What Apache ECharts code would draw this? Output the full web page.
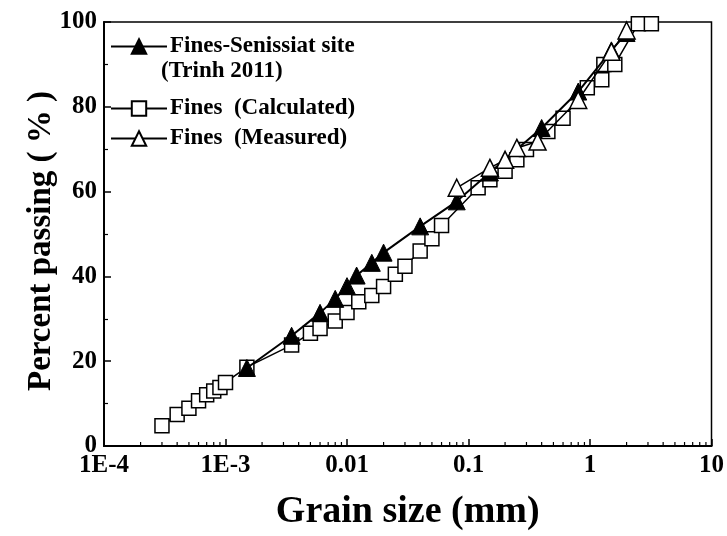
<!DOCTYPE html>
<html>
<head>
<meta charset="utf-8">
<script src="https://cdn.jsdelivr.net/npm/echarts@6/dist/echarts.min.js"></script>
<style>html,body{margin:0;padding:0;background:#fff}#c{width:727px;height:536px}</style>
</head>
<body>
<div id="c"></div>
<script>
// Fines-Senissiat site (Trinh 2011)
const senX = [0.0015, 0.0035, 0.006, 0.008, 0.01, 0.012, 0.016, 0.02, 0.04, 0.08, 0.15, 0.4, 0.8, 1.5, 2.0];
const senY = [18.4, 26.0, 31.4, 34.7, 37.7, 40.2, 43.2, 45.6, 51.8, 57.7, 64.5, 75.0, 83.6, 93.3, 97.4];
// Fines (Calculated)
const calcX = [0.0003, 0.0004, 0.0005, 0.0006, 0.0007, 0.0008, 0.0009, 0.001, 0.0015, 0.0035, 0.005, 0.006, 0.008, 0.01, 0.0125, 0.016, 0.02, 0.025, 0.03, 0.04, 0.05, 0.06, 0.12, 0.15, 0.2, 0.25, 0.3, 0.45, 0.6, 0.95, 1.25, 1.3, 1.6, 2.5, 3.2];
const calcY = [4.8, 7.4, 8.9, 10.7, 12.1, 13.0, 13.8, 15.0, 18.6, 23.8, 26.6, 27.7, 29.5, 31.5, 34.0, 35.5, 37.6, 40.5, 42.4, 46.0, 48.9, 52.0, 60.9, 62.8, 64.8, 67.5, 69.9, 74.2, 77.3, 84.5, 86.4, 90.0, 90.0, 99.6, 99.6];
// Fines (Measured)
const measX = [0.08, 0.15, 0.2, 0.25, 0.37, 0.8, 1.5, 2.0];
const measY = [60.9, 65.6, 67.5, 70.3, 71.8, 81.6, 93.0, 98.0];
// axis tick labels
const xTickLabels = ['1E-4', '1E-3', '0.01', '0.1', '1', '10'];
const xMinorTicks = [];
for (let e = -4; e < 1; e++) for (let m = 2; m <= 9; m++) xMinorTicks.push(m * Math.pow(10, e));

const zip = (a, b) => a.map((v, i) => [v, b[i]]);
const FONT = 'Liberation Serif';
const chart = echarts.init(document.getElementById('c'));
chart.setOption({
  animation: false,
  backgroundColor: '#fff',
  textStyle: { fontFamily: FONT, fontWeight: 'bold', color: '#000' },
  grid: { left: 104, right: 14, top: 22, bottom: 89, show: true, borderColor: '#000', borderWidth: 1.5, backgroundColor: 'transparent' },
  xAxis: {
    type: 'log', logBase: 10, min: 0.0001, max: 10,
    name: 'Grain size (mm)', nameLocation: 'middle', nameGap: 47,
    nameTextStyle: { fontFamily: FONT, fontWeight: 'bold', fontSize: 38, color: '#000' },
    axisLine: { lineStyle: { color: '#000', width: 2 } },
    axisTick: { inside: true, length: 7, lineStyle: { color: '#000', width: 1.5 } },
    minorTick: { show: false },
    splitLine: { show: false },
    axisLabel: {
      fontFamily: FONT, fontWeight: 'bold', fontSize: 25, color: '#000', margin: 7,
      formatter: v => xTickLabels[Math.round(Math.log10(v)) + 4]
    }
  },
  yAxis: {
    type: 'value', min: 0, max: 100, interval: 20,
    name: 'Percent passing ( % )', nameLocation: 'middle', nameGap: 46, nameMoveOverlap: false,
    nameTextStyle: { fontFamily: FONT, fontWeight: 'bold', fontSize: 33, color: '#000', padding: [0, 14, 0, 0] },
    axisLine: { show: true, lineStyle: { color: '#000', width: 2 } },
    axisTick: { inside: true, length: 7, lineStyle: { color: '#000', width: 1.5 } },
    minorTick: { show: true, splitNumber: 2, length: 4, lineStyle: { color: '#000', width: 1.2 } },
    splitLine: { show: false },
    axisLabel: { fontFamily: FONT, fontWeight: 'bold', fontSize: 25, color: '#000', margin: 7 }
  },
  legend: [
    {
      data: ['Fines-Senissiat site'], left: 105, top: 30, orient: 'vertical',
      itemWidth: 56, itemHeight: 18, itemGap: 7,
      textStyle: { fontFamily: FONT, fontWeight: 'bold', fontSize: 23, color: '#000', padding: [0, 0, 0, -2] }
    },
    {
      data: ['Fines  (Calculated)', 'Fines  (Measured)'], left: 105, top: 92, orient: 'vertical',
      itemWidth: 56, itemHeight: 18, itemGap: 7,
      textStyle: { fontFamily: FONT, fontWeight: 'bold', fontSize: 23, color: '#000', padding: [0, 0, 0, -2] }
    }
  ],
  graphic: [
    { type: 'text', left: 161, top: 60, style: { text: '(Trinh 2011)', font: 'bold 23px "Liberation Serif"', fill: '#000' } }
  ],
  series: [
    {
      name: 'Fines  (Calculated)', type: 'line', data: zip(calcX, calcY),
      symbol: 'rect', symbolSize: 14, z: 2,
      lineStyle: { color: '#000', width: 1.5 },
      itemStyle: { color: '#fff', borderColor: '#000', borderWidth: 1.5 }
    },
    {
      name: 'Fines-Senissiat site', type: 'line', data: zip(senX, senY),
      symbol: 'triangle', symbolSize: 17, z: 3,
      lineStyle: { color: '#000', width: 2 },
      itemStyle: { color: '#000', borderColor: '#000', borderWidth: 1 }
    },
    {
      name: 'Fines  (Measured)', type: 'line', data: zip(measX, measY),
      symbol: 'triangle', symbolSize: 17, z: 4,
      lineStyle: { color: '#000', width: 1.5 },
      itemStyle: { color: '#fff', borderColor: '#000', borderWidth: 1.5 }
    },
    {
      type: 'custom', silent: true, z: 5, clip: false,
      data: xMinorTicks.map(v => [v, 0]),
      renderItem: (params, api) => {
        const p = api.coord([api.value(0), 0]);
        return { type: 'line', shape: { x1: p[0], y1: p[1], x2: p[0], y2: p[1] - 4 }, style: { stroke: '#000', lineWidth: 1.2 } };
      }
    }
  ]
});
</script>
</body>
</html>
